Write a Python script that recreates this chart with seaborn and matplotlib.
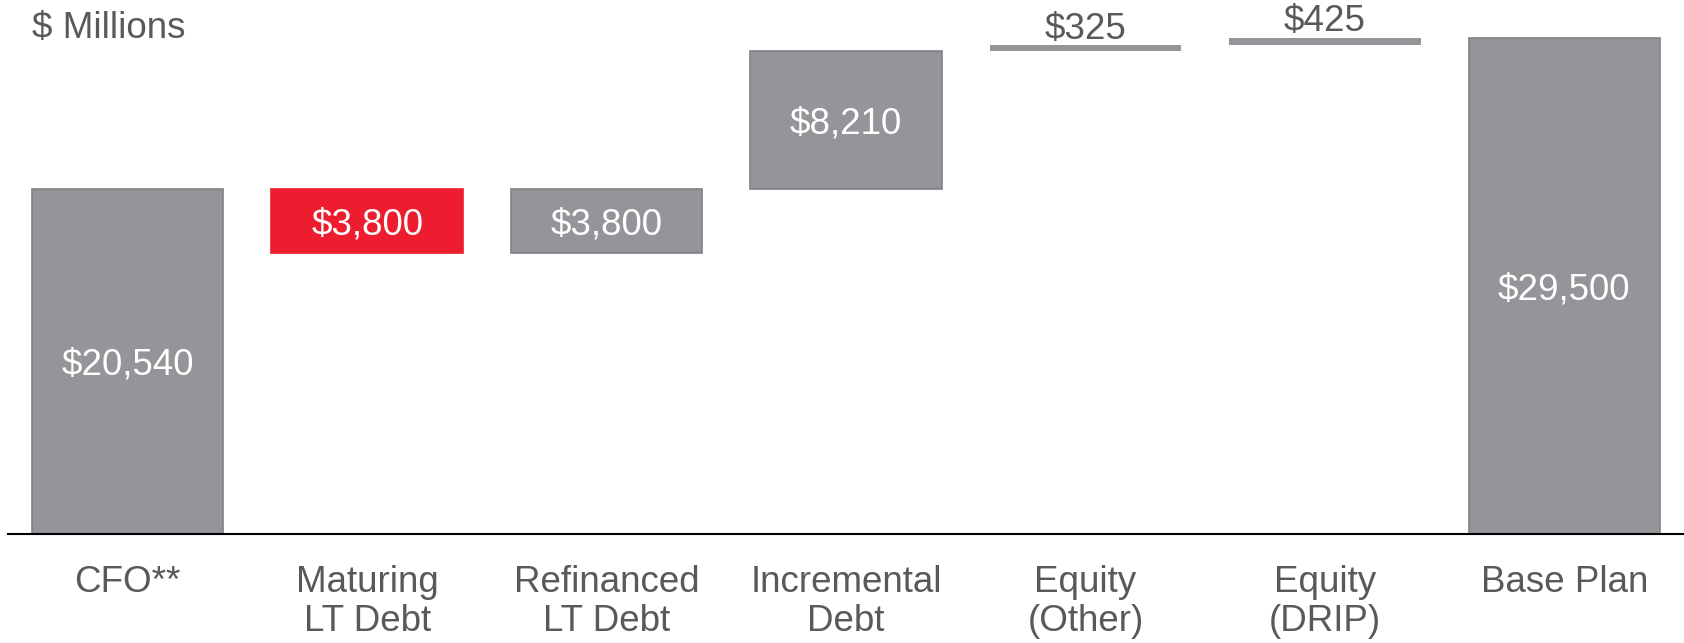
import matplotlib
matplotlib.use("Agg")
import matplotlib.pyplot as plt
import seaborn as sns
import numpy as np
import pandas as pd

# Waterfall data ($ Millions)
categories = ["CFO**", "Maturing\nLT Debt", "Refinanced\nLT Debt", "Incremental\nDebt",
              "Equity\n(Other)", "Equity\n(DRIP)", "Base Plan"]
changes = [20540, -3800, 3800, 8210, 325, 425, 29500]
is_total = [True, False, False, False, False, False, True]
labels = ["$20,540", "$3,800", "$3,800", "$8,210", "$325", "$425", "$29,500"]

# Compute bar bottoms / heights for the waterfall
bottoms, heights = [], []
running = 0
for c, tot in zip(changes, is_total):
    if tot:
        bottoms.append(0)
        heights.append(c)
        running = c
    else:
        if c < 0:
            bottoms.append(running + c)
            heights.append(-c)
        else:
            bottoms.append(running)
            heights.append(c)
        running += c

df = pd.DataFrame({"category": categories, "height": heights, "bottom": bottoms})

sns.set_style("white")
plt.rcParams["font.family"] = ["Liberation Sans", "DejaVu Sans"]

gray = "#939598"
red = "#ED1C2E"
text_gray = "#58595B"
fs = 26.5

fig = plt.figure(figsize=(16.84, 6.43), dpi=100)
ax = fig.add_axes([8 / 1684, 109 / 643, 1 - 8 / 1684, 1 - 109 / 643])

sns.barplot(data=df, x="category", y="height", bottom=df["bottom"].values,
            color=gray, saturation=1, errorbar=None, width=0.8,
            edgecolor="#808285", linewidth=1.2, ax=ax)

for i, p in enumerate(ax.patches):
    if changes[i] < 0:
        p.set_facecolor(red)
        p.set_edgecolor(red)
    elif heights[i] < 1000:
        p.set_edgecolor(gray)
        p.set_linewidth(0)

ymax = 31766
ax.set_xlim(-0.5, 6.5)
ax.set_ylim(0, ymax)

# value labels
for i, (b, h, lab) in enumerate(zip(bottoms, heights, labels)):
    if h < 1000:
        ax.text(i, b + h + 400, lab, ha="center", va="baseline", fontsize=fs, color=text_gray)
    else:
        ax.text(i, b + h / 2, lab, ha="center", va="center_baseline", fontsize=fs, color="white")

ax.set_xlabel("")
ax.set_ylabel("")
ax.set_yticks([])
ax.tick_params(axis="x", length=0, pad=22, labelsize=fs, labelcolor=text_gray)
for lbl in ax.get_xticklabels():
    lbl.set_linespacing(1.17)

for s in ["top", "right", "left"]:
    ax.spines[s].set_visible(False)
ax.spines["bottom"].set_color("black")
ax.spines["bottom"].set_linewidth(1.5)

fig.text(32 / 1684, 1 - 29 / 643, "$ Millions", ha="left", va="center", fontsize=fs, color=text_gray)

fig.savefig("out.png", dpi=100)
